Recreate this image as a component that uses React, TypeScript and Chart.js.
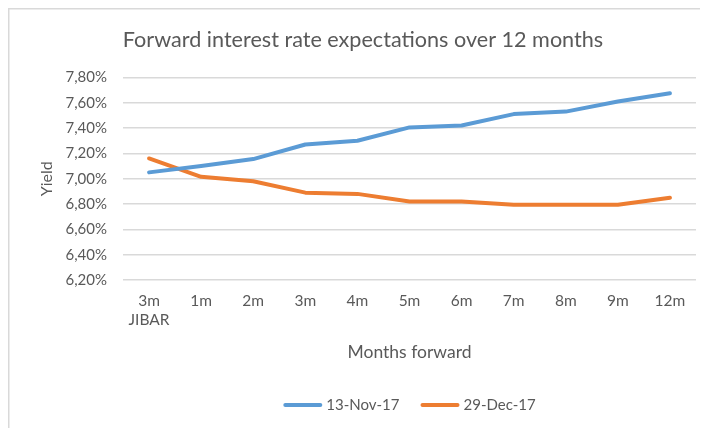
import React, { useEffect, useRef } from "react";
import { Chart, registerables } from "chart.js";

Chart.register(...registerables);

const TITLE = "Forward interest rate expectations over 12 months";
const categories: (string | string[])[] = [["3m", "JIBAR"], "1m", "2m", "3m", "4m", "5m", "6m", "7m", "8m", "9m", "12m"];
const seriesNames = ["13-Nov-17", "29-Dec-17"];
const nov13 = [7.05, 7.1, 7.155, 7.27, 7.3, 7.405, 7.42, 7.51, 7.53, 7.61, 7.675];
const dec29 = [7.16, 7.015, 6.98, 6.89, 6.88, 6.82, 6.82, 6.795, 6.795, 6.795, 6.85];
const yMin = 6.2;
const yMax = 7.8;
const yStep = 0.2;

const FONT = "Lato, 'Open Sans', sans-serif";
const TEXT = "#595959";
const GRID = "#d9d9d9";
const COLORS = ["#5b9bd5", "#ed7d31"];

const decorPlugin = {
  id: "decor",
  beforeDraw(chart: any) {
    const ctx = chart.ctx;
    ctx.save();
    ctx.fillStyle = "#ffffff";
    ctx.fillRect(0, 0, chart.width, chart.height);
    ctx.fillStyle = GRID;
    ctx.fillRect(0, 0, chart.width, 1.5);
    ctx.fillRect(0, 0, 1.5, chart.height);
    ctx.restore();
  },
  afterDraw(chart: any) {
    const ctx = chart.ctx;
    ctx.save();
    // title
    ctx.fillStyle = TEXT;
    ctx.font = `21.6px ${FONT}`;
    ctx.textAlign = "center";
    ctx.textBaseline = "middle";
    ctx.fillText(TITLE, 355, 32);
    // legend
    ctx.font = `15px ${FONT}`;
    const lineLen = 39;
    const gap = 4;
    const itemGap = 21;
    const widths = seriesNames.map((n) => ctx.measureText(n).width);
    const total = widths.reduce((a, w) => a + lineLen + gap + w, 0) + itemGap * (seriesNames.length - 1);
    const ca = chart.chartArea;
    let x = (ca.left + ca.right) / 2 - total / 2;
    const y = 397;
    ctx.textAlign = "left";
    seriesNames.forEach((n, i) => {
      ctx.strokeStyle = COLORS[i];
      ctx.lineWidth = 4;
      ctx.lineCap = "round";
      ctx.beginPath();
      ctx.moveTo(x + 2, y);
      ctx.lineTo(x + lineLen - 2, y);
      ctx.stroke();
      x += lineLen + gap;
      ctx.fillStyle = TEXT;
      ctx.fillText(n, x, y);
      x += widths[i] + itemGap;
    });
    ctx.restore();
  },
};

export default function App() {
  const ref = useRef<HTMLCanvasElement>(null);
  useEffect(() => {
    if (!ref.current) return;
    const chart = new Chart(ref.current, {
      type: "line",
      data: {
        labels: categories,
        datasets: [
          { label: seriesNames[0], data: nov13, borderColor: COLORS[0], backgroundColor: COLORS[0], borderWidth: 4, pointRadius: 0, borderCapStyle: "round", borderJoinStyle: "round", tension: 0 },
          { label: seriesNames[1], data: dec29, borderColor: COLORS[1], backgroundColor: COLORS[1], borderWidth: 4, pointRadius: 0, borderCapStyle: "round", borderJoinStyle: "round", tension: 0 },
        ],
      },
      options: {
        responsive: false,
        animation: false,
        devicePixelRatio: 1,
        layout: { padding: { top: 69.4, right: 12, bottom: 58, left: 0 } },
        plugins: { legend: { display: false }, title: { display: false }, tooltip: { enabled: false } },
        scales: {
          x: {
            offset: true,
            grid: { display: false, drawTicks: false },
            border: { display: false },
            ticks: { color: TEXT, font: { family: FONT, size: 15.5 }, padding: 12, maxRotation: 0, autoSkip: false },
            title: { display: true, text: "Months forward", color: TEXT, font: { family: FONT, size: 17.5 }, padding: { top: 0, bottom: 7 } },
            afterFit: (s: any) => { s.height = 90; },
          },
          y: {
            min: yMin,
            max: yMax,
            grid: { color: GRID, lineWidth: 1.5, drawTicks: false },
            border: { display: false },
            ticks: {
              stepSize: yStep,
              color: TEXT,
              font: { family: FONT, size: 15 },
              padding: 16,
              callback: (v: any) => Number(v).toFixed(2).replace(".", ",") + "%",
            },
            title: { display: true, text: "Yield", color: TEXT, font: { family: FONT, size: 16 }, padding: { top: 29, bottom: 0 } },
            afterFit: (s: any) => { s.width = 115; },
          },
        },
      },
      plugins: [decorPlugin],
    });
    return () => chart.destroy();
  }, []);
  return <canvas ref={ref} width={700} height={420} style={{ display: "block" }} />;
}
